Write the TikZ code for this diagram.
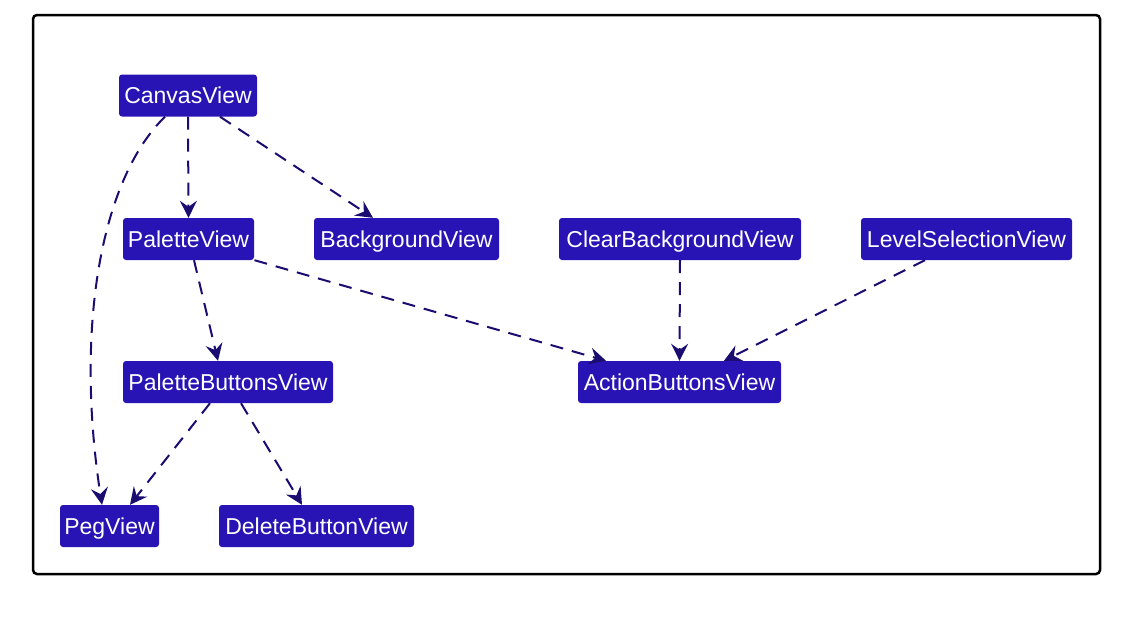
\documentclass[tikz,border=0pt]{standalone}
\usepackage{fontspec}
\setmainfont{Liberation Sans}
\usetikzlibrary{arrows.meta}
\definecolor{boxfill}{RGB}{40,20,180}
\definecolor{edgecol}{RGB}{26,12,112}
\begin{document}
\begin{tikzpicture}[x=1pt,y=-1pt,
  cls/.style={fill=boxfill,text=white,rounded corners=3pt,inner sep=0pt,minimum height=42pt,
    text height=20pt,text depth=4pt,
    font=\fontsize{23}{26}\selectfont},
  dep/.style={draw=edgecol,line width=2pt,dash pattern=on 13pt off 9pt,
    -{Stealth[length=17pt,width=17pt,inset=6pt,fill=edgecol]}}]
\useasboundingbox (0,0) rectangle (1137,621);
\draw[line width=2.5pt,rounded corners=4pt] (33,15) rectangle (1100,574);
\node[cls,minimum width=138pt] (cv) at (188,95.5) {CanvasView};
\node[cls,minimum width=131pt] (pv) at (188.5,239) {PaletteView};
\node[cls,minimum width=185pt] (bv) at (406.5,239) {BackgroundView};
\node[cls,minimum width=242pt] (cbv) at (680,239) {ClearBackgroundView};
\node[cls,minimum width=211pt] (lsv) at (966.5,239) {LevelSelectionView};
\node[cls,minimum width=210pt] (pbv) at (228,382) {PaletteButtonsView};
\node[cls,minimum width=203pt] (abv) at (679.5,382) {ActionButtonsView};
\node[cls,minimum width=99pt] (peg) at (109.5,526) {PegView};
\node[cls,minimum width=195pt] (dbv) at (316.5,526) {DeleteButtonView};
\draw[dep] (cv.south) -- (pv.north);
\draw[dep] ([xshift=32pt]cv.south) -- ([xshift=-33.5pt]bv.north);
\draw[dep] ([xshift=-23pt]cv.south) .. controls (100,180) and (75,330) .. ([xshift=-7.5pt]peg.north);
\draw[dep] ([xshift=5.5pt]pv.south) -- ([xshift=-10pt]pbv.north);
\draw[dep] ([xshift=66pt]pv.south) -- ([xshift=-73.5pt]abv.north);
\draw[dep] (cbv.south) -- (abv.north);
\draw[dep] ([xshift=-41.5pt]lsv.south) -- ([xshift=44.5pt]abv.north);
\draw[dep] ([xshift=-18pt]pbv.south) -- ([xshift=20.5pt]peg.north);
\draw[dep] ([xshift=13pt]pbv.south) -- ([xshift=-14.5pt]dbv.north);
\end{tikzpicture}
\end{document}
